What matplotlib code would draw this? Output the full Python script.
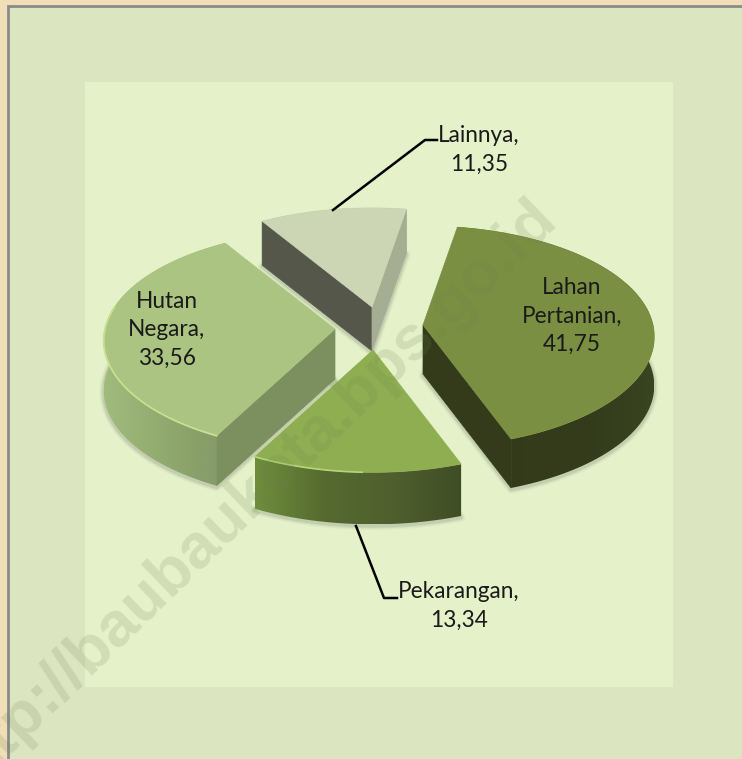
import numpy as np
import matplotlib
matplotlib.use("Agg")
import matplotlib.pyplot as plt
from matplotlib.colors import LinearSegmentedColormap
from matplotlib.patches import PathPatch, Rectangle, Polygon
from matplotlib.path import Path

# ---- data
categories = ["Lahan Pertanian", "Pekarangan", "Hutan Negara", "Lainnya"]
values = [41.75, 13.34, 33.56, 11.35]
value_labels = ["41,75", "13,34", "33,56", "11,35"]

# ---- style / layout
W, H = 742, 759
START = 9.5
R, K, P = 230, 0.476, 0.105
apexes = [(423, 325), (373, 350), (335, 329), (372, 307)]
depths = [49, 52, 50, 44]
tops = ["#7a8f41", "#8fae52", "#abc482", "#ccd5b4"]
rims = [["#30381a", "#333b1b", "#333b1b", "#3a4420"],
        ["#6f8e3c", "#566a30", "#4f5f2e", "#3f4d24"],
        ["#a0bb7c", "#96b073", "#8ca36a", "#84996a"],
        ["#a5ad92", "#a5ad92"]]
draw_order = [3, 2, 0, 1]

plt.rcParams["font.family"] = ["Lato", "DejaVu Sans"]
fig = plt.figure(figsize=(W / 100, H / 100), dpi=100, facecolor="#efdeb6")
ax = fig.add_axes([0, 0, 1, 1])
ax.set_xlim(0, W)
ax.set_ylim(H, 0)
ax.axis("off")

ax.add_patch(Rectangle((8, 6), W, H, fc="#dbe5c0", ec="#8a8a8a", lw=2, zorder=1))
ax.add_patch(Rectangle((85, 82), 588, 605, fc="#e4f1c9", ec="none", zorder=2))


def project(theta, apex):
    t = np.radians(theta)
    d = 1 + P * np.cos(t)
    return apex[0] + R * np.sin(t) / d, apex[1] - R * K * np.cos(t) / d


def gradient(path, colors, zorder):
    patch = PathPatch(path, fc="none", ec="none", transform=ax.transData, zorder=zorder)
    ax.add_patch(patch)
    xs, ys = path.vertices[:, 0], path.vertices[:, 1]
    cmap = LinearSegmentedColormap.from_list("g", colors)
    im = ax.imshow(np.linspace(0, 1, 256).reshape(1, -1), cmap=cmap, aspect="auto",
                   extent=(xs.min(), xs.max(), ys.max(), ys.min()), zorder=zorder,
                   interpolation="bilinear")
    im.set_clip_path(patch)
    ax.set_xlim(0, W)
    ax.set_ylim(H, 0)


def shadow(pts, zorder):
    for lw, a in ((6, .04), (4, .06), (2.5, .09)):
        ax.add_patch(Polygon(pts + np.array([0, 1.5]), closed=True, fc="none",
                             ec="#303030", lw=lw, alpha=a, zorder=zorder, joinstyle="round"))


def quad(a, b, depth):
    return np.array([a, b, (b[0], b[1] + depth), (a[0], a[1] + depth)])


angles = START + np.concatenate([[0], np.cumsum(values)]) * 3.6

for rank, i in enumerate(draw_order):
    z = 10 + rank * 5
    t0, t1 = angles[i], angles[i + 1]
    apex, h = apexes[i], depths[i]
    th = np.linspace(t0, t1, 120)
    arc = np.column_stack(project(th, apex))
    low = arc + np.array([0, h])
    strip = np.vstack([arc, low[::-1]])
    cut_start = quad(apex, arc[0], h)
    cut_end = quad(apex, arc[-1], h)

    shadow(np.vstack([low, (apex[0], apex[1] + h)]), z)
    gradient(Path(np.vstack([strip, strip[0]]), closed=True), rims[i], z + 1)
    if i == 0:
        ax.add_patch(Polygon(cut_end, fc="#333b1b", ec="#333b1b", lw=.5, zorder=z + 1))
    if i == 2:
        ax.add_patch(Polygon(cut_start, fc="#7c8f5e", ec="#7c8f5e", lw=.5, zorder=z + 1))
    if i == 3:
        ax.add_patch(Polygon(cut_start, fc="#54574a", ec="#54574a", lw=.5, zorder=z + 1))
        ax.add_patch(Polygon(cut_end, fc="#a5ad92", ec="#a5ad92", lw=.5, zorder=z + 1))
    ax.add_patch(Polygon(np.vstack([apex, arc]), closed=True, fc=tops[i], ec=tops[i],
                         lw=.5, zorder=z + 2))
    if i == 1:
        keep = th > 182
        ax.plot(arc[keep, 0], arc[keep, 1], color="#b8d478", lw=1.2, zorder=z + 3)
    if i == 2:
        keep = th < 282
        ax.plot(arc[keep, 0], arc[keep, 1], color="#c8e090", lw=1.3, zorder=z + 3)

# ---- leader lines
ax.plot([333, 425, 437], [210, 140, 140], color="black", lw=1.8, zorder=40)
ax.plot([356, 384, 397], [526, 598, 598], color="black", lw=1.8, zorder=40)

# ---- labels
label_text = ["Lahan\nPertanian,\n" + value_labels[0],
              "Pekarangan,\n" + value_labels[1],
              "Hutan\nNegara,\n" + value_labels[2],
              "Lainnya,\n" + value_labels[3]]
label_pos = [(572, 316), (459, 606), (167, 330), (479, 150)]
for s, (x, y) in zip(label_text, label_pos):
    ax.text(x, y, s, ha="center", va="center", fontsize=16.3, color="#1a1a1a",
            linespacing=1.45, zorder=41)

# ---- watermark
ax.text(249, 497, "http://baubaukota.bps.go.id", rotation=44, rotation_mode="anchor",
        ha="center", va="center", fontsize=45.5, fontweight="bold", family="Liberation Sans",
        color="#6f8050", alpha=0.17, zorder=50, clip_on=True)

fig.savefig("out.png", dpi=100, facecolor=fig.get_facecolor())
